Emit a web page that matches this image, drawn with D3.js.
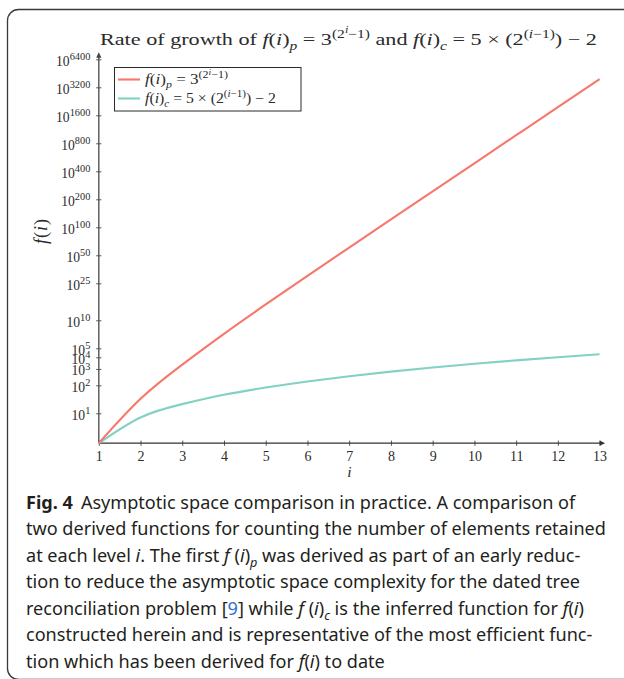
<!DOCTYPE html>
<html>
<head>
<meta charset="utf-8">
<script src="https://cdn.jsdelivr.net/npm/d3@7"></script>
<style>
  body { margin: 0; background: #fff; }
  svg { display: block; }
</style>
</head>
<body>
<svg id="fig" width="624" height="679"></svg>
<script>
// Level i on the horizontal axis
const levels = [1, 2, 3, 4, 5, 6, 7, 8, 9, 10, 11, 12, 13];
// f(i)_p = 3^(2^i - 1) is far beyond double range, so it is kept as log10 f(i)_p
const seriesPLog10 = [0.4771, 1.4314, 3.3398, 7.1568, 14.7908, 30.0586, 60.5944, 121.666, 243.809, 488.095, 976.667, 1953.81, 3908.10];
// f(i)_c = 5 x 2^(i-1) - 2
const seriesC = [3, 8, 18, 38, 78, 158, 318, 638, 1278, 2558, 5118, 10238, 20478];
const xTickValues = [1, 2, 3, 4, 5, 6, 7, 8, 9, 10, 11, 12, 13];
// y ticks are powers of ten, listed by exponent
const yTickExponents = [1, 2, 3, 4, 5, 10, 25, 50, 100, 200, 400, 800, 1600, 3200, 6400];
const colorP = "#f7776b";
const colorC = "#82d2c2";

const svg = d3.select("#fig");
const SERIF = "'Liberation Serif', 'Times New Roman', serif";
const SANS = "'Noto Sans', 'Open Sans', sans-serif";
const INK = "#2b2b2b";

// Rich text: parts are [text, italic, level, extra] with level 0 base, 1 sup, 2 sup of sup, -1 sub
function rich(textSel, parts, size, supScale = 0.7) {
  const shift = {0: 0, 1: -0.42, 2: -0.68, "-1": 0.28};
  const scale = {0: 1, 1: supScale, 2: 0.55, "-1": 0.7};
  let cur = 0;
  parts.forEach(p => {
    const [t, it, lv = 0, extra = {}] = p;
    const target = shift[lv] * size;
    const ts = textSel.append("tspan")
      .text(t)
      .attr("font-size", size * scale[lv])
      .attr("font-style", it ? "italic" : "normal");
    if (target !== cur) ts.attr("dy", target - cur);
    cur = target;
    if (extra.bold) ts.attr("font-weight", "bold");
    if (extra.fill) ts.attr("fill", extra.fill);
    if (extra.dx) ts.attr("dx", extra.dx);
  });
  return textSel;
}

// Serif text placed at (x, y) and stretched horizontally to the given width
function wideText(parent, x0, y0, parts, size, width) {
  const g = parent.append("g");
  const t = g.append("text").attr("font-family", SERIF).attr("fill", INK);
  rich(t, parts, size);
  const sx = width / t.node().getComputedTextLength();
  g.attr("transform", `translate(${x0},${y0}) scale(${sx},1)`);
  return g;
}

// Frame around the figure and its caption
svg.append("rect")
  .attr("x", 7.5).attr("y", 9.5)
  .attr("width", 640).attr("height", 670)
  .attr("rx", 11).attr("ry", 11)
  .attr("fill", "none").attr("stroke", "#3a3a3a").attr("stroke-width", 1.3);

// Scales: the vertical axis is logarithmic in the exponent (double log of f)
const x = d3.scaleLinear().domain([1, 13]).range([98.8, 599.6]);
const y = d3.scaleLog().base(2).domain([seriesPLog10[0], 6400]).range([443.2, 59.3]);

const plot = svg.append("g");

// Y axis
const yAxis = plot.append("g")
  .attr("transform", `translate(${x(1)},0)`)
  .call(d3.axisLeft(y).tickValues(yTickExponents).tickFormat(""));
yAxis.select(".domain").remove();
yAxis.selectAll(".tick line").attr("x1", -2.6).attr("x2", 2.6).attr("stroke", "#444").attr("stroke-width", 0.9);
yAxis.selectAll(".tick text").remove();
yAxis.selectAll(".tick").each(function (e) {
  const t = d3.select(this).append("text")
    .attr("x", -8.5).attr("y", 5.8)
    .attr("text-anchor", "end")
    .attr("font-family", SERIF).attr("fill", INK);
  rich(t, [["10", false, 0], [String(e), false, 1]], 13.6, 0.76);
});

// X axis
const xAxis = plot.append("g")
  .attr("transform", `translate(0,${y.range()[0]})`)
  .call(d3.axisBottom(x).tickValues(xTickValues).tickFormat(d3.format("d")));
xAxis.select(".domain").remove();
xAxis.selectAll(".tick line").attr("y1", -2.6).attr("y2", 2.6).attr("stroke", "#444").attr("stroke-width", 0.9);
xAxis.selectAll(".tick text")
  .attr("y", 7.5).attr("dy", "0.71em")
  .attr("font-family", SERIF).attr("font-size", 14).attr("fill", INK);

// Axis lines with arrow heads
const x0 = x(1), yb = y.range()[0];
const xEnd = x(13) + 3, yTop = y(6400) - 4.5;
plot.append("line").attr("x1", x0).attr("y1", yb).attr("x2", x0).attr("y2", yTop)
  .attr("stroke", "#555").attr("stroke-width", 1.4);
plot.append("line").attr("x1", x0).attr("y1", yb).attr("x2", xEnd).attr("y2", yb)
  .attr("stroke", "#333").attr("stroke-width", 1.2);
plot.append("path")
  .attr("d", `M${x0},${yTop - 2.5} L${x0 - 2.6},${yTop + 3} L${x0 + 2.6},${yTop + 3} Z`)
  .attr("fill", "#444");
plot.append("path")
  .attr("d", `M${xEnd + 2.5},${yb} L${xEnd - 3},${yb - 2.6} L${xEnd - 3},${yb + 2.6} Z`)
  .attr("fill", "#333");

// Series lines
const line = d3.line()
  .x(d => x(d[0]))
  .y(d => y(d[1]))
  .curve(d3.curveNatural);
const dataC = levels.map((l, k) => [l, Math.log10(seriesC[k])]);
const dataP = levels.map((l, k) => [l, seriesPLog10[k]]);
plot.append("path").datum(dataC).attr("d", line)
  .attr("fill", "none").attr("stroke", colorC).attr("stroke-width", 2.1);
plot.append("path").datum(dataP).attr("d", line)
  .attr("fill", "none").attr("stroke", colorP).attr("stroke-width", 2.1);

// Axis titles
rich(svg.append("text")
  .attr("transform", `translate(47,231) rotate(-90)`)
  .attr("text-anchor", "middle")
  .attr("font-family", SERIF).attr("fill", INK),
  [["f", true], ["(", false], ["i", true], [")", false]], 18)
  .attr("letter-spacing", 1);
rich(svg.append("text")
  .attr("x", 349.3).attr("y", 477)
  .attr("text-anchor", "middle")
  .attr("font-family", SERIF).attr("fill", INK),
  [["i", true]], 15.5);

// Title
wideText(svg, 100, 45, [
  ["Rate of growth of ", false], ["f", true], ["(", false], ["i", true], [")", false], ["p", true, -1],
  [" = 3", false], ["(2", false, 1], ["i", true, 2], ["\u22121)", false, 1],
  [" and ", false], ["f", true], ["(", false], ["i", true], [")", false], ["c", true, -1],
  [" = 5 \u00d7 (2", false], ["(", false, 1], ["i", true, 1], ["\u22121)", false, 1], [") \u2212 2", false]
], 17.2, 497);

// Legend
const legend = svg.append("g");
legend.append("rect")
  .attr("x", 114.5).attr("y", 67.5).attr("width", 186.5).attr("height", 43.5)
  .attr("fill", "#fff").attr("stroke", "#2a2a2a").attr("stroke-width", 1);
const legendRows = [
  {color: colorP, y: 79.5, width: 83, parts: [["f", true], ["(", false], ["i", true], [")", false], ["p", true, -1],
    [" = 3", false], ["(2", false, 1], ["i", true, 2], ["\u22121)", false, 1]]},
  {color: colorC, y: 98.5, width: 131, parts: [["f", true], ["(", false], ["i", true], [")", false], ["c", true, -1],
    [" = 5 \u00d7 (2", false], ["(", false, 1], ["i", true, 1], ["\u22121)", false, 1], [") \u2212 2", false]]}
];
legendRows.forEach(r => {
  legend.append("line").attr("x1", 118).attr("x2", 140).attr("y1", r.y).attr("y2", r.y)
    .attr("stroke", r.color).attr("stroke-width", 2.1);
  wideText(legend, 145, r.y + 4.6, r.parts, 14, r.width);
});

// Caption
const captionLines = [
  [["Fig. 4", false, 0, {bold: true}], ["Asymptotic space comparison in practice. A comparison of", false, 0, {dx: 8}]],
  [["two derived functions for counting the number of elements retained", false]],
  [["at each level ", false], ["i", true], [". The first ", false], ["f", true], [" (", false], ["i", true], [")", false], ["p", true, -1], [" was derived as part of an early reduc-", false]],
  [["tion to reduce the asymptotic space complexity for the dated tree", false]],
  [["reconciliation problem [", false], ["9", false, 0, {fill: "#2f6fd6"}], ["] while ", false], ["f", true], [" (", false], ["i", true], [")", false], ["c", true, -1], [" is the inferred function for ", false], ["f", true], ["(", false], ["i", true], [")", false]],
  [["constructed herein and is representative of the most efficient func-", false]],
  [["tion which has been derived for ", false], ["f", true], ["(", false], ["i", true], [")", false], [" to date", false]]
];
const capG = svg.append("g");
let capSize = 18;
function drawCaption(size) {
  capG.selectAll("*").remove();
  return captionLines.map((parts, k) => {
    const t = capG.append("text")
      .attr("x", 26).attr("y", 508.5 + k * 26.5)
      .attr("font-family", SANS).attr("fill", "#231f20");
    rich(t, parts, size);
    return t.node().getComputedTextLength();
  });
}
const w0 = drawCaption(capSize);
capSize = capSize * (606 - 26) / w0[1];
drawCaption(capSize);
</script>
</body>
</html>
